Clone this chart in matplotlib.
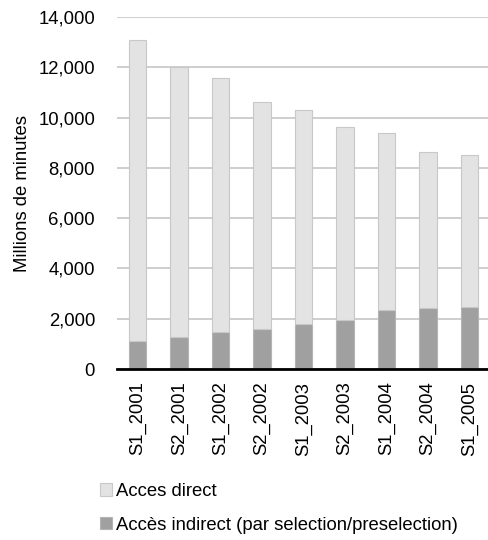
import matplotlib
matplotlib.use("Agg")
from matplotlib import pyplot as plt
from matplotlib.ticker import FuncFormatter

plt.rcParams["font.family"] = ["Liberation Sans", "DejaVu Sans"]
plt.rcParams["font.size"] = 13.3

periods = ["S1_2001", "S2_2001", "S1_2002", "S2_2002", "S1_2003",
           "S2_2003", "S1_2004", "S2_2004", "S1_2005"]
totals = [13100, 12000, 11590, 10610, 10315, 9615, 9375, 8630, 8510]
indirect = [1116, 1253, 1478, 1600, 1800, 1960, 2360, 2418, 2458]
direct = [t - i for t, i in zip(totals, indirect)]

fig = plt.figure(figsize=(4.88, 5.4), dpi=100)
ax = fig.add_axes([117 / 488, 1 - 369 / 540, 373 / 488, 352 / 540])

x = range(len(periods))
b_ind = ax.bar(x, indirect, width=0.42, color="#a0a0a0", edgecolor="#b4b4b4",
               linewidth=0.8, zorder=3)
b_dir = ax.bar(x, direct, bottom=indirect, width=0.42, color="#e3e3e3", edgecolor="#c8c8c8",
               linewidth=0.8, zorder=3)

ax.set_xlim(-0.5, len(periods) - 0.5)
ax.set_ylim(0, 14000)
ax.set_yticks(range(0, 14001, 2000))
ax.yaxis.set_major_formatter(FuncFormatter(lambda v, p: f"{int(v):,}"))
ax.grid(axis="y", color="#c6c6c6", linewidth=1.2, zorder=0)
ax.set_axisbelow(True)

for s in ["left", "right", "top"]:
    ax.spines[s].set_visible(False)
ax.spines["bottom"].set_color("black")
ax.spines["bottom"].set_linewidth(2)
ax.spines["bottom"].set_zorder(4)

ax.tick_params(axis="y", length=0, pad=15.8, labelcolor="black")
ax.tick_params(axis="x", length=0, pad=9)
ax.set_xticks(list(x))
ax.set_xticklabels(periods, rotation=90)
ax.set_ylabel("Millions de minutes", labelpad=5)

fig.legend([b_dir, b_ind], ["Acces direct", "Accès indirect (par selection/preselection)"],
           loc="upper left", bbox_to_anchor=(87 / 488, 1 - 470 / 540), frameon=False,
           handlelength=0.66, handleheight=0.66, handletextpad=0.22, labelspacing=0.9,
           borderpad=0.2, fontsize=13.3)

fig.savefig("out.png", dpi=100)
